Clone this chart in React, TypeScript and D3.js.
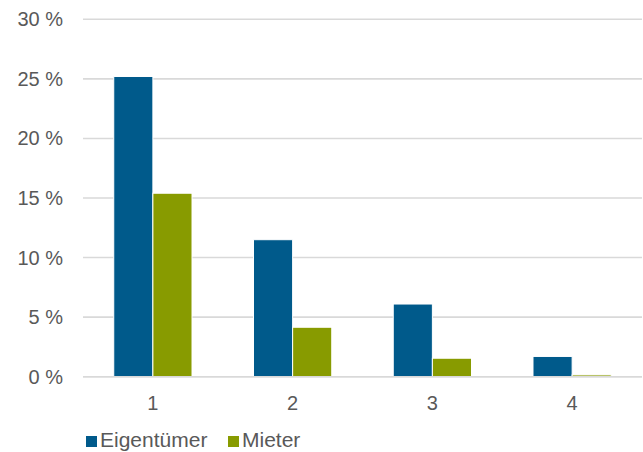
import React from "react";
import * as d3 from "d3";

const categories = ["1", "2", "3", "4"];
const eigentuemer = [25.2, 11.5, 6.1, 1.7];
const mieter = [15.4, 4.15, 1.55, 0.15];
const yTicks = [0, 5, 10, 15, 20, 25, 30];
const seriesNames = ["Eigentümer", "Mieter"];
const seriesColors = ["#005A8B", "#889B00"];

const W = 643;
const H = 452;
const margin = { left: 83, right: 1, top: 19.3, bottom: 75.3 };

export default function App() {
  const x0 = d3
    .scaleBand<string>()
    .domain(categories)
    .range([margin.left, W - margin.right])
    .paddingInner(0.44)
    .paddingOuter(0.22);
  const x1 = d3
    .scaleBand<string>()
    .domain(seriesNames)
    .range([0, x0.bandwidth()]);
  const y = d3
    .scaleLinear()
    .domain([0, 30])
    .range([H - margin.bottom, margin.top]);

  const series = [eigentuemer, mieter];
  const font = "'Liberation Sans', Arial, sans-serif";

  return (
    <svg
      width={W}
      height={H}
      style={{ position: "absolute", left: 0, top: 0, background: "#fff" }}
      fontFamily={font}
    >
      {yTicks.map((t) => (
        <g key={t}>
          <line
            x1={margin.left}
            x2={W - margin.right}
            y1={y(t)}
            y2={y(t)}
            stroke="#d9d9d9"
            strokeWidth={1.6}
          />
          <text
            x={63}
            y={y(t)}
            dy="0.35em"
            textAnchor="end"
            fontSize={20}
            fill="#595959"
          >
            {t} %
          </text>
        </g>
      ))}
      {categories.map((c, i) => (
        <g key={c}>
          {series.map((vals, s) => (
            <rect
              key={s}
              x={(x0(c) ?? 0) + (x1(seriesNames[s]) ?? 0)}
              y={y(vals[i])}
              width={x1.bandwidth()}
              height={y(0) - y(vals[i])}
              fill={seriesColors[s]}
              stroke="#fff"
              strokeWidth={1}
            />
          ))}
          <text
            x={(x0(c) ?? 0) + x0.bandwidth() / 2}
            y={409.5}
            textAnchor="middle"
            fontSize={20}
            fill="#595959"
          >
            {c}
          </text>
        </g>
      ))}
      <line
        x1={margin.left}
        x2={W - margin.right}
        y1={y(0)}
        y2={y(0)}
        stroke="#d9d9d9"
        strokeWidth={1.6}
      />
      <g>
        <rect x={86} y={436} width={11} height={11} fill={seriesColors[0]} />
        <text x={100} y={447} fontSize={21} fill="#595959">
          {seriesNames[0]}
        </text>
        <rect x={228} y={436} width={11} height={11} fill={seriesColors[1]} />
        <text x={242} y={447} fontSize={21} fill="#595959">
          {seriesNames[1]}
        </text>
      </g>
    </svg>
  );
}
